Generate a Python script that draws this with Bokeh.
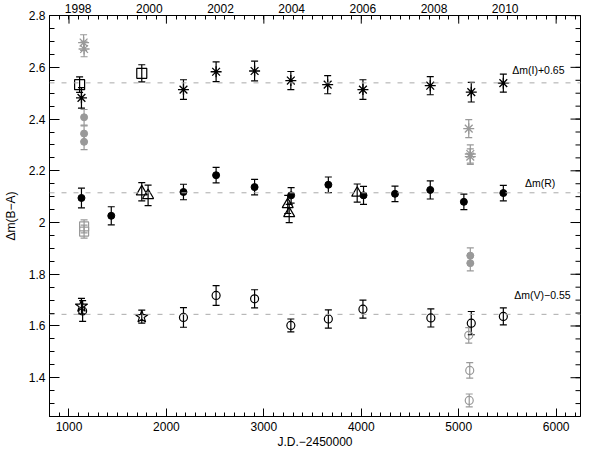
import math
import numpy as np
from bokeh.plotting import figure
from bokeh.models import (ColumnDataSource, Whisker, TeeHead, Span, Label, LinearAxis,
                          SingleIntervalTicker, FixedTicker, Range1d)
from bokeh.embed import file_html
from bokeh.resources import INLINE

# ---------------- data (J.D. - 2450000, magnitude differences) ----------------
# I band (+0.65)
i_black_jd = [1128, 2175, 2510, 2905, 3277, 3655, 4017, 4708, 5129, 5458]
i_black_y = [2.482, 2.514, 2.583, 2.586, 2.549, 2.533, 2.514, 2.529, 2.504, 2.539]
i_black_e = [0.040, 0.038, 0.038, 0.038, 0.035, 0.035, 0.038, 0.035, 0.038, 0.035]

i_gray_jd = [1150, 1155, 5103, 5119, 5119]
i_gray_y = [2.696, 2.671, 2.363, 2.265, 2.255]
i_gray_e = [0.030, 0.030, 0.035, 0.035, 0.030]

i_sq_jd = [1109, 1747]
i_sq_y = [2.533, 2.577]
i_sq_e = [0.030, 0.033]

i_gdot_jd = [1155, 1155, 1155]
i_gdot_y = [2.407, 2.344, 2.312]
i_gdot_e = [0.030, 0.030, 0.030]

# R band
r_black_jd = [1128, 1434, 2175, 2510, 2905, 3280, 3662, 4023, 4346, 4708, 5053, 5458]
r_black_y = [2.095, 2.026, 2.118, 2.183, 2.137, 2.105, 2.146, 2.105, 2.111, 2.126, 2.080, 2.114]
r_black_e = [0.038, 0.035, 0.030, 0.030, 0.030, 0.030, 0.030, 0.035, 0.030, 0.035, 0.030, 0.030]

r_tri_jd = [1747, 1812, 3245, 3260, 3958]
r_tri_y = [2.119, 2.105, 2.070, 2.035, 2.114]
r_tri_e = [0.035, 0.040, 0.035, 0.035, 0.035]

r_gsq_jd = [1155, 1155]
r_gsq_y = [1.985, 1.965]
r_gsq_e = [0.025, 0.025]

r_gdot_jd = [5119, 5119]
r_gdot_y = [1.872, 1.843]
r_gdot_e = [0.030, 0.030]

# V band (-0.55)
v_black_jd = [1140, 2175, 2510, 2905, 3277, 3662, 4017, 4714, 5129, 5458]
v_black_y = [1.658, 1.633, 1.718, 1.705, 1.602, 1.627, 1.665, 1.631, 1.611, 1.637]
v_black_e = [0.040, 0.038, 0.038, 0.035, 0.025, 0.035, 0.035, 0.035, 0.045, 0.033]

v_star_jd = [1128, 1747]
v_star_y = [1.677, 1.636]
v_star_e = [0.030, 0.025]

v_gray_jd = [5103, 5113, 5108]
v_gray_y = [1.564, 1.428, 1.312]
v_gray_e = [0.030, 0.030, 0.025]

ref_levels = [2.54, 2.115, 1.645]
band_labels = ["\u0394m(I)+0.65", "\u0394m(R)", "\u0394m(V)\u22120.55"]
band_label_jd = [5550, 5680, 5570]
band_label_y = [2.588, 2.153, 1.719]

years = [1998, 2000, 2002, 2004, 2006, 2008, 2010]

GRAY = "#999999"
FONT = "Liberation Sans"
X0, X1 = 800, 6250
Y0, Y1 = 1.25, 2.8

p = figure(width=584, height=451, output_backend="svg", toolbar_location=None,
           x_range=Range1d(X0, X1), y_range=Range1d(Y0, Y1 + 0.0005),
           min_border_left=43, min_border_right=4, min_border_top=4, min_border_bottom=34)
p.grid.visible = False
p.outline_line_color = "black"
p.outline_line_width = 1
p.background_fill_color = "white"
p.border_fill_color = "white"

def style_axis(ax, ticker, major, minor):
    ax.ticker = ticker
    ax.major_tick_in = major
    ax.major_tick_out = 0
    ax.minor_tick_in = minor
    ax.minor_tick_out = 0
    ax.axis_line_color = "black"
    ax.major_tick_line_color = "black"
    ax.minor_tick_line_color = "black"
    ax.major_label_text_font = FONT
    ax.major_label_text_font_size = "12px"
    ax.major_label_text_color = "black"

style_axis(p.xaxis[0], SingleIntervalTicker(interval=1000, num_minor_ticks=10), 8, 4)
style_axis(p.yaxis[0], SingleIntervalTicker(interval=0.2, num_minor_ticks=4), 10, 5)
p.xaxis[0].major_label_standoff = 5
p.yaxis[0].major_label_standoff = 4
p.xaxis[0].axis_label = "J.D.\u22122450000"
p.yaxis[0].axis_label = "\u0394m(B\u2212A)"
for ax in (p.xaxis[0], p.yaxis[0]):
    ax.axis_label_text_font = FONT
    ax.axis_label_text_font_size = "12px"
    ax.axis_label_text_font_style = "normal"
    ax.axis_label_text_color = "black"
p.xaxis[0].axis_label_standoff = 1
p.yaxis[0].axis_label_standoff = 8

# top axis: calendar-year labels + minor ticks every 100 days
minor_x = [float(v) for v in np.arange(900, X1, 100)]
year_pos = [1544.5 + (yr - 2000) * 365.25 + 280 for yr in years]
top = LinearAxis()
style_axis(top, FixedTicker(ticks=year_pos, minor_ticks=minor_x), 0, 4)
top.major_label_overrides = {pos: str(yr) for pos, yr in zip(year_pos, years)}
top.major_label_standoff = 3
p.add_layout(top, "above")

# inward ticks on the top (major) and right (major + minor) edges
major_x = [float(v) for v in np.arange(1000, X1, 1000)]
major_y = [round(float(v), 1) for v in np.arange(1.4, 2.81, 0.2)]
minor_y = [round(float(v), 2) for v in np.arange(1.3, 2.8, 0.05)]
p.scatter(major_x, [Y1] * len(major_x), marker="dash", size=16, angle=math.pi / 2,
          line_color="black", line_width=1)
p.scatter([X1] * len(minor_y), minor_y, marker="dash", size=10,
          line_color="black", line_width=1)
p.scatter([X1] * len(major_y), major_y, marker="dash", size=20,
          line_color="black", line_width=1)

for lvl in ref_levels:
    p.add_layout(Span(location=lvl, dimension="width", line_color="#aaaaaa",
                      line_dash="5 7", line_width=1))

def errs(jd, y, e, color):
    src = ColumnDataSource(dict(base=jd, lower=[a - b for a, b in zip(y, e)],
                                upper=[a + b for a, b in zip(y, e)]))
    p.add_layout(Whisker(source=src, base="base", lower="lower", upper="upper",
                         dimension="height", line_color=color, line_width=1.2,
                         upper_head=TeeHead(size=7, line_color=color, line_width=1.2),
                         lower_head=TeeHead(size=7, line_color=color, line_width=1.2)))

# gray series first
errs(i_gray_jd, i_gray_y, i_gray_e, GRAY)
p.scatter(i_gray_jd, i_gray_y, marker="asterisk", size=11, line_color=GRAY, line_width=1.3)
errs(i_gdot_jd, i_gdot_y, i_gdot_e, GRAY)
p.scatter(i_gdot_jd, i_gdot_y, marker="circle", size=7, line_color=GRAY, fill_color=GRAY)
errs(r_gsq_jd, r_gsq_y, r_gsq_e, GRAY)
p.scatter(r_gsq_jd, r_gsq_y, marker="square", size=9, line_color=GRAY, fill_color=None, line_width=1.2)
errs(r_gdot_jd, r_gdot_y, r_gdot_e, GRAY)
p.scatter(r_gdot_jd, r_gdot_y, marker="circle", size=7, line_color=GRAY, fill_color=GRAY)
errs(v_gray_jd, v_gray_y, v_gray_e, GRAY)
p.scatter(v_gray_jd, v_gray_y, marker="circle", size=8, line_color=GRAY, fill_color=None, line_width=1.2)

# black series
errs(i_black_jd, i_black_y, i_black_e, "black")
p.scatter(i_black_jd, i_black_y, marker="asterisk", size=11, line_color="black", line_width=1.3)
errs(i_sq_jd, i_sq_y, i_sq_e, "black")
p.scatter(i_sq_jd, i_sq_y, marker="square", size=10, line_color="black", fill_color=None, line_width=1.2)
errs(r_black_jd, r_black_y, r_black_e, "black")
p.scatter(r_black_jd, r_black_y, marker="circle", size=7, line_color="black", fill_color="black")
errs(r_tri_jd, r_tri_y, r_tri_e, "black")
p.scatter(r_tri_jd, r_tri_y, marker="triangle", size=11, line_color="black", fill_color=None, line_width=1.2)
errs(v_black_jd, v_black_y, v_black_e, "black")
p.scatter(v_black_jd, v_black_y, marker="circle", size=8, line_color="black", fill_color=None, line_width=1.2)
errs(v_star_jd, v_star_y, v_star_e, "black")
p.scatter(v_star_jd, v_star_y, marker="star", size=13, line_color="black", fill_color=None, line_width=1.2)

for txt, x, y in zip(band_labels, band_label_jd, band_label_y):
    p.add_layout(Label(x=x, y=y, text=txt, text_font=FONT, text_font_size="10.5px",
                       text_align="left", text_baseline="middle", text_color="black"))

open("out.html", "w").write(file_html(p, INLINE))
